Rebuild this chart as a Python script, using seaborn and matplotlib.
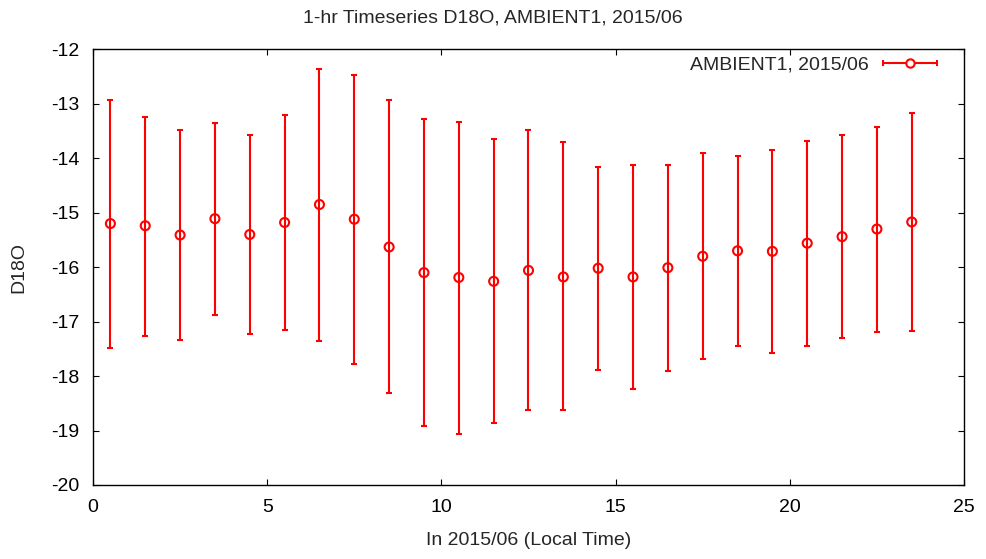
import numpy as np
import pandas as pd
import matplotlib
matplotlib.use("Agg")
import matplotlib.pyplot as plt
import seaborn as sns
from matplotlib.lines import Line2D
from matplotlib.legend_handler import HandlerBase

hours = [0.5, 1.5, 2.5, 3.5, 4.5, 5.5, 6.5, 7.5, 8.5, 9.5, 10.5, 11.5,
         12.5, 13.5, 14.5, 15.5, 16.5, 17.5, 18.5, 19.5, 20.5, 21.5, 22.5, 23.5]
d18o = [-15.20, -15.24, -15.41, -15.11, -15.40, -15.18, -14.85, -15.12, -15.63,
        -16.10, -16.19, -16.26, -16.06, -16.18, -16.02, -16.18, -16.01, -15.80,
        -15.70, -15.71, -15.56, -15.44, -15.30, -15.17]
upper = [-12.93, -13.24, -13.49, -13.35, -13.58, -13.20, -12.36, -12.47, -12.93,
         -13.28, -13.33, -13.65, -13.49, -13.71, -14.16, -14.13, -14.12, -13.90,
         -13.96, -13.85, -13.68, -13.58, -13.42, -13.17]
lower = [-17.48, -17.26, -17.33, -16.87, -17.22, -17.16, -17.36, -17.77, -18.32,
         -18.92, -19.06, -18.87, -18.63, -18.63, -17.88, -18.23, -17.91, -17.69,
         -17.45, -17.57, -17.44, -17.31, -17.19, -17.17]

label = "AMBIENT1, 2015/06"
df = pd.DataFrame({"hour": hours, "d18o": d18o, "lo": lower, "hi": upper})


# gnuplot style key: horizontal line with caps and a circle in the middle
class ErrKeyHandler(HandlerBase):
    def create_artists(self, legend, orig, xd, yd, w, h, fs, trans):
        y = h / 2 - yd
        x0, x1 = -xd, -xd + w
        line = Line2D([x0, x1], [y, y], color="red", lw=1.5)
        caps = Line2D([x0, x1], [y, y], ls="none", marker="|", ms=5,
                      mew=1.5, color="red")
        circ = Line2D([(x0 + x1) / 2], [y], ls="none", marker="o", ms=6,
                      mfc="white", mec="red", mew=1.5)
        for a in (line, caps, circ):
            a.set_transform(trans)
        return [line, caps, circ]


sns.set_style("ticks")
plt.rcParams["font.family"] = ["Liberation Sans", "DejaVu Sans"]
plt.rcParams["font.size"] = 14
plt.rcParams["axes.unicode_minus"] = False

fig = plt.figure(figsize=(9.86, 5.59), dpi=100)
ax = fig.add_axes([0.0943, 0.1324, 0.8834, 0.7794])

yerr = np.array([df["d18o"] - df["lo"], df["hi"] - df["d18o"]])
ax.errorbar(df["hour"], df["d18o"], yerr=yerr, fmt="none", ecolor="red",
            elinewidth=1.5, capsize=2.2, capthick=1.5, zorder=2)
sns.scatterplot(data=df, x="hour", y="d18o", ax=ax, marker="o", s=42,
                facecolor="none", edgecolor="red", linewidth=1.5, zorder=3)

ax.set_xlim(0, 25)
ax.set_ylim(-20, -12)
ax.set_xticks([0, 5, 10, 15, 20, 25])
ax.set_yticks(np.arange(-20, -11, 1))
ax.tick_params(direction="in", top=True, right=True, length=4, width=0.8,
               labelsize=14, colors="black")
ax.tick_params(axis="x", pad=10)
ax.tick_params(axis="y", pad=10)
for s in ax.spines.values():
    s.set_linewidth(1.0)
    s.set_color("black")

ax.set_xlabel("In 2015/06 (Local Time)", fontsize=14)
ax.set_ylabel("D18O", fontsize=14)
ax.xaxis.set_label_coords(0.5, -0.107)
ax.yaxis.set_label_coords(-0.0757, 0.5)
fig.text(0.5, 1 - 18 / 559, "1-hr Timeseries D18O, AMBIENT1, 2015/06",
         ha="center", va="center", fontsize=14)

ax.legend([object()], [label], handler_map={object: ErrKeyHandler()},
          loc="upper right", bbox_to_anchor=(937 / 986, 1 - 56 / 559),
          bbox_transform=fig.transFigure, frameon=False, markerfirst=False,
          handlelength=2.8, handletextpad=0.7, borderpad=0, borderaxespad=0,
          fontsize=14)

fig.savefig("out.png", dpi=100)
